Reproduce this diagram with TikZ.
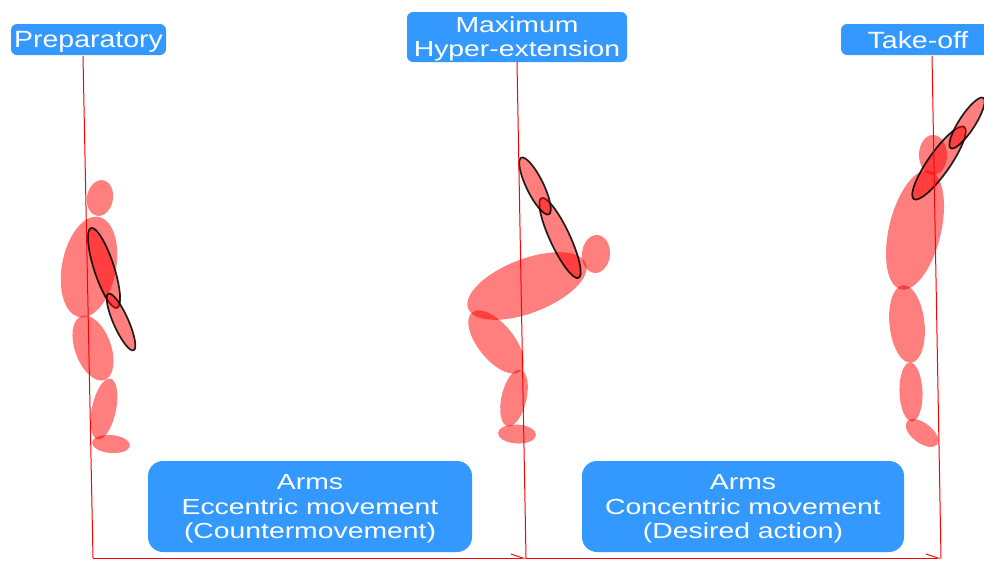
\documentclass[tikz,border=0pt]{standalone}
\usepackage{fontspec}
\usetikzlibrary{positioning,shapes.geometric,arrows.meta}
\newfontfamily\tagfont[FakeStretch=1.21]{Liberation Sans}
\newfontfamily\boxfont[FakeStretch=1.3]{Liberation Sans}
\definecolor{phaseblue}{HTML}{3399FF}
\definecolor{limbred}{HTML}{FF0000}

\begin{document}
\begin{tikzpicture}[
    x=1pt, y=-1pt,
    stage/.style={rectangle, fill=phaseblue, rounded corners=6pt, text=white, align=center, inner sep=0pt, text depth=0pt, font=\tagfont\fontsize{23.5}{23.5}\selectfont},
    movebox/.style={stage, rounded corners=15pt, minimum height=91pt, font=\boxfont\fontsize{21.8}{24.5}\selectfont},
    seg/.style={ellipse, fill=limbred, fill opacity=0.5, inner sep=0pt},
    arm/.style={seg, draw=black, draw opacity=0.85, line width=1.7pt},
    timeline/.style={red, line width=1pt},
    arrow/.style={timeline, -{Straight Barb[left, length=12pt, width=8pt]}}
]
    \clip (0,0) rectangle (984,560);

    % Phase labels along the top
    \node[stage, minimum width=155pt, minimum height=31pt] (prep) at (88.5,39.5) {Preparatory};
    \node[stage, minimum width=220pt, minimum height=50pt, font=\boxfont\fontsize{21.8}{24}\selectfont] (maxext) at (517,37) {Maximum\\Hyper-extension};
    \node[stage, minimum width=154pt, minimum height=31pt] (takeoff) at (918,39.5) {Take-off};

    % Preparatory stance
    \node[seg, minimum width=36pt, minimum height=26pt, rotate=80] (head1) at (100,198) {};
    \node[seg, minimum width=102pt, minimum height=54pt, rotate=79] (trunk1) at (89,267) {};
    \node[seg, minimum width=68pt, minimum height=36pt, rotate=110] (thigh1) at (93,348) {};
    \node[seg, minimum width=62pt, minimum height=24pt, rotate=78] (shin1) at (104,409) {};
    \node[seg, minimum width=38pt, minimum height=18pt, rotate=-5] (foot1) at (111,444) {};
    \node[arm, minimum width=84pt, minimum height=20pt, rotate=108] (uarm1) at (104,268) {};
    \node[arm, minimum width=62pt, minimum height=15pt, rotate=114] (farm1) at (121,322) {};

    % Maximum hyper-extension
    \node[seg, minimum width=38pt, minimum height=28pt, rotate=85] (head2) at (596,254) {};
    \node[seg, minimum width=126pt, minimum height=54pt, rotate=21] (trunk2) at (527,286) {};
    \node[seg, minimum width=76pt, minimum height=36pt, rotate=129] (thigh2) at (496,342) {};
    \node[seg, minimum width=58pt, minimum height=25pt, rotate=77] (shin2) at (514,398) {};
    \node[seg, minimum width=38pt, minimum height=19pt, rotate=-3] (foot2) at (517,434) {};
    \node[arm, minimum width=88pt, minimum height=20pt, rotate=115] (uarm2) at (560,238) {};
    \node[arm, minimum width=63pt, minimum height=17pt, rotate=116] (farm2) at (535,186) {};

    % Take-off
    \node[seg, minimum width=40pt, minimum height=28pt, rotate=90] (head3) at (933,155) {};
    \node[seg, minimum width=122pt, minimum height=52pt, rotate=76.5] (trunk3) at (915,230) {};
    \node[seg, minimum width=78pt, minimum height=35pt, rotate=96] (thigh3) at (907,324) {};
    \node[seg, minimum width=59pt, minimum height=23pt, rotate=92] (shin3) at (911,392) {};
    \node[seg, minimum width=38pt, minimum height=20pt, rotate=-37] (foot3) at (922,433) {};
    \node[arm, minimum width=88pt, minimum height=22pt, rotate=55] (uarm3) at (939,163) {};
    \node[arm, minimum width=60pt, minimum height=16pt, rotate=57] (farm3) at (967,123) {};

    % Movement boxes
    \node[movebox, minimum width=324pt] (ecc) at (310,506.5) {Arms\\Eccentric movement\\(Countermovement)};
    \node[movebox, minimum width=322pt] (conc) at (743,506.5) {Arms\\Concentric movement\\(Desired action)};

    % Time markers
    \coordinate (top1) at (83,56);
    \coordinate (top2) at (517,62);
    \coordinate (top3) at (932,56);
    \coordinate (end1) at (93,558);
    \coordinate (end2) at (526,558);
    \coordinate (end3) at (941,558);

    \draw[timeline] (top1) -- (end1);
    \draw[timeline] (top2) -- (end2);
    \draw[timeline] (top3) -- (end3);

    \draw[arrow] (end1) -- (end2);
    \draw[arrow] (end2) -- (end3);
\end{tikzpicture}
\end{document}
